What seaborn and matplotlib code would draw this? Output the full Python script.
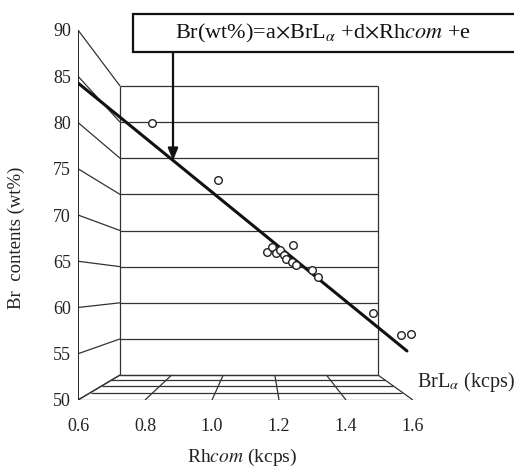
import numpy as np
import pandas as pd
import matplotlib
matplotlib.use("Agg")
import matplotlib.pyplot as plt
from matplotlib.patches import Rectangle
import seaborn as sns

# Measured samples: Rh Compton intensity (kcps) vs Br content (wt%)
rh_com = [0.821, 1.018, 1.164, 1.179, 1.191, 1.203, 1.215, 1.221,
          1.242, 1.239, 1.251, 1.299, 1.317, 1.481, 1.564, 1.594]
br_wt = [79.95, 73.78, 66.00, 66.54, 65.89, 66.22, 65.68, 65.24,
         66.76, 64.92, 64.59, 64.05, 63.30, 59.41, 57.03, 57.14]

# Calibration line end points
fit_x = [0.600, 1.582]
fit_y = [84.27, 55.30]

x_ticks = [0.6, 0.8, 1.0, 1.2, 1.4, 1.6]
y_ticks = [50, 55, 60, 65, 70, 75, 80, 85, 90]
depth_levels = [0.0, 0.25, 0.5, 0.75, 1.0]

sns.set_theme(style="white")
plt.rcParams["font.family"] = ["Liberation Serif", "DejaVu Serif"]
plt.rcParams["mathtext.fontset"] = "stix"

W, H = 514, 470
fig = plt.figure(figsize=(W / 100, H / 100), dpi=100)
ax = fig.add_axes([78 / W, 70 / H, 335 / W, 370 / H])
ax.set_xlim(0.6, 1.6)
ax.set_ylim(50, 90)

# Perspective box: front plane at depth 0, back wall at depth 1
VX, VY = 1.146, 62.33


def proj(x, v, t):
    sx = 1.0 / (1.0 + 0.2987 * t)
    sy = 1.0 / (1.0 + 0.2804 * t)
    return VX + sx * (np.asarray(x) - VX), VY + sy * (np.asarray(v) - VY)


frame_kw = dict(color="#333333", lw=0.9, solid_capstyle="butt", zorder=1)
x0, x1 = x_ticks[0], x_ticks[-1]
y0, y1 = y_ticks[0], y_ticks[-1]

# back wall: horizontal grid lines and edges
for v in y_ticks:
    px, py = proj([x0, x1], [v, v], 1.0)
    ax.plot(px, py, **frame_kw)
for x in (x0, x1):
    px, py = proj([x, x], [y0, y1], 1.0)
    ax.plot(px, py, **frame_kw)

# left wall: lines running from front axis to back wall
for v in y_ticks:
    px, py = proj([x0, x0], [v, v], np.array([0.0, 1.0]))
    ax.plot(px, py, **frame_kw)

# floor grid
for t in depth_levels:
    px, py = proj([x0, x1], [y0, y0], t)
    ax.plot(px, py, **frame_kw)
for x in x_ticks:
    px, py = proj([x, x], [y0, y0], np.array([0.0, 1.0]))
    ax.plot(px, py, **frame_kw)

# front vertical axis
ax.plot([x0, x0], [y0, y1], color="#222222", lw=1.4, zorder=2)

# calibration line and samples
sns.lineplot(x=fit_x, y=fit_y, ax=ax, color="#111111", lw=2.2, zorder=3)
df = pd.DataFrame({"rh": rh_com, "br": br_wt})
sns.scatterplot(data=df, x="rh", y="br", ax=ax, marker="o", s=30,
                facecolor="white", edgecolor="#222222", linewidth=1.0,
                zorder=4, clip_on=False)

for sp in ax.spines.values():
    sp.set_visible(False)
ax.set_xticks(x_ticks)
ax.set_xticklabels([f"{v:.1f}" for v in x_ticks])
ax.set_yticks(y_ticks)
ax.set_yticklabels([str(v) for v in y_ticks])
ax.tick_params(axis="x", length=0, pad=13, labelsize=13, colors="#222222")
ax.tick_params(axis="y", length=0, pad=5, labelsize=13, colors="#222222")
ax.grid(False)
ax.set_xlabel("")
ax.set_ylabel("")

# axis titles
fig.text(242 / W, (H - 457) / H, r"Rh$\it{com}$ (kcps)", ha="center",
         va="center", fontsize=14, color="#222222")
fig.text(16 / W, (H - 238) / H, "Br  contents (wt%)", ha="center",
         va="center", rotation=90, fontsize=13.5, color="#222222")
ax.text(1.012, 0.049, r"BrL$_{\alpha}$ (kcps)", transform=ax.transAxes,
        ha="left", va="center", fontsize=14.5, color="#222222")

# equation box
fig.patches.append(Rectangle((133 / W, (H - 52) / H), 420 / W, 38 / H,
                             transform=fig.transFigure, fill=True,
                             facecolor="white", edgecolor="#111111",
                             lw=1.6, clip_on=False, zorder=5))
fig.text(175 / W, (H - 33) / H,
         r"Br(wt%)=a$\times$BrL$_{\alpha}$ +d$\times$Rh$\it{com}$ +e",
         ha="left", va="center", fontsize=16, color="#111111", zorder=6)

# arrow from the box to the line
arrow_x = 0.8836
ax.annotate("", xy=(arrow_x, 84.27 + (55.30 - 84.27) / 0.982 * (arrow_x - 0.6)),
            xytext=(arrow_x, 87.6),
            arrowprops=dict(arrowstyle="-|>,head_length=0.6,head_width=0.25",
                            color="#111111", lw=1.6, shrinkA=0, shrinkB=0),
            annotation_clip=False, zorder=6)

fig.savefig("out.png", dpi=100)
